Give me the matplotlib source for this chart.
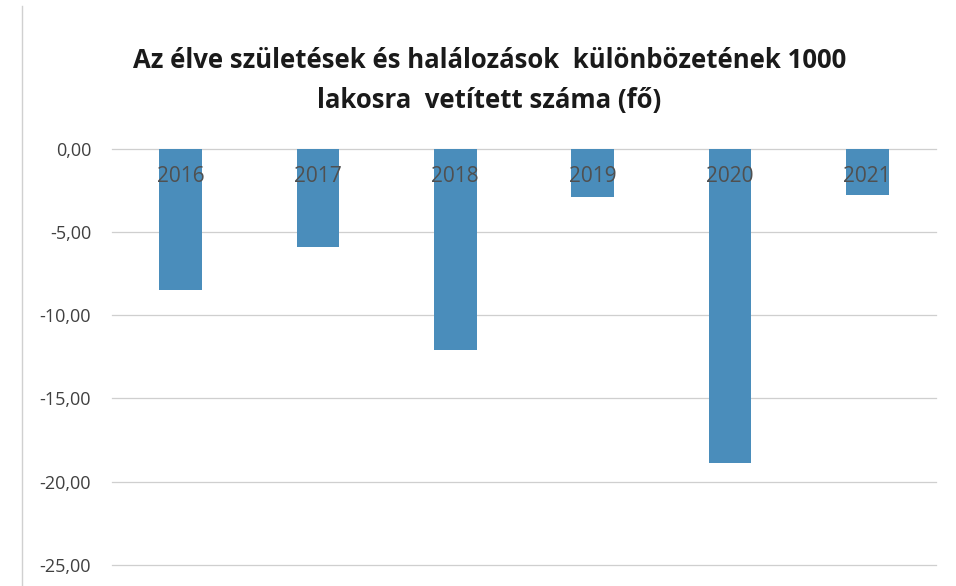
import matplotlib
matplotlib.use("Agg")
import matplotlib.pyplot as plt
from matplotlib.lines import Line2D

years = ["2016", "2017", "2018", "2019", "2020", "2021"]
values = [-8.5, -5.9, -12.1, -2.9, -18.9, -2.8]
yticks = [0, -5, -10, -15, -20, -25]
title = "Az élve születések és halálozások  különbözetének 1000\nlakosra  vetített száma (fő)"

plt.rcParams['font.family'] = ['Open Sans', 'DejaVu Sans']

fig = plt.figure(figsize=(9.56, 5.86), dpi=100)
ax = fig.add_axes([0.117, 0.036, 0.862, 0.710])

x = list(range(len(years)))
ax.bar(x, values, width=0.31, color='#4a8dbb', zorder=3)
ax.set_xlim(-0.5, len(years) - 0.5)
ax.set_ylim(-25, 0)
ax.set_yticks(yticks)
ax.set_yticklabels([f"{v:.2f}".replace('.', ',') for v in yticks], fontsize=13, color='#404040')
ax.set_xticks([])
for s in ax.spines.values():
    s.set_visible(False)
ax.tick_params(axis='y', length=0, pad=15)
for v in yticks:
    ax.axhline(v, color='#cfcfcf', lw=0.9, zorder=1, clip_on=False)

for xi, lab in zip(x, years):
    ax.annotate(lab, xy=(xi, 0), xytext=(0, -20), textcoords='offset points',
                ha='center', va='center', fontsize=15, color='#505050', zorder=4)

fig.text(0.512, 0.863, title, ha='center', va='center', fontsize=18.5,
         fontweight='bold', color='#1a1a1a', linespacing=1.6)

fig.add_artist(Line2D([0.023, 0.023], [0.0, 0.99], color='#d0d0d0', lw=1, transform=fig.transFigure))

fig.savefig("out.png", dpi=100)
